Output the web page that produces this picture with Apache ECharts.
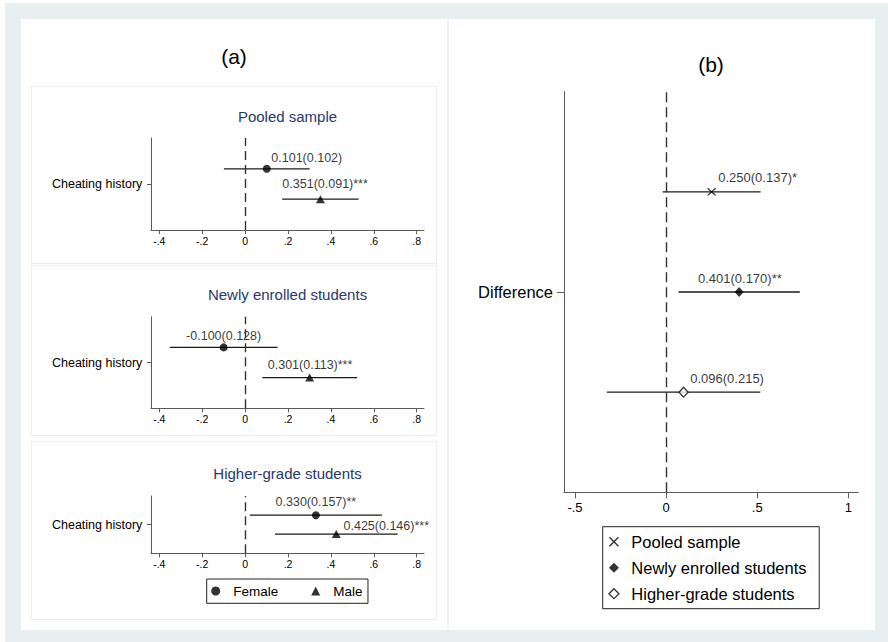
<!DOCTYPE html>
<html><head><meta charset="utf-8">
<script src="https://cdn.jsdelivr.net/npm/echarts@6/dist/echarts.min.js"></script>
<style>html,body{margin:0;padding:0;background:#fff}#c{width:888px;height:642px}</style>
</head><body><div id="c"></div>
<script>
// ---------------- data ----------------
const panelATitles = ['Pooled sample', 'Newly enrolled students', 'Higher-grade students'];
const groupNames = ['Female', 'Male'];
const yLabelA = 'Cheating history';
const femaleEst = [0.101, -0.100, 0.330];
const femaleSE = [0.102, 0.128, 0.157];
const femaleStars = ['', '', '**'];
const femaleLow = [-0.099, -0.351, 0.022];
const femaleHigh = [0.301, 0.151, 0.638];
const maleEst = [0.351, 0.301, 0.425];
const maleSE = [0.091, 0.113, 0.146];
const maleStars = ['***', '***', '***'];
const maleLow = [0.173, 0.080, 0.139];
const maleHigh = [0.529, 0.522, 0.711];

const diffNames = ['Pooled sample', 'Newly enrolled students', 'Higher-grade students'];
const yLabelB = 'Difference';
const diffEst = [0.250, 0.401, 0.096];
const diffSE = [0.137, 0.170, 0.215];
const diffStars = ['*', '**', ''];
const diffLow = [-0.019, 0.068, -0.325];
const diffHigh = [0.519, 0.734, 0.517];

const ticksA = [-0.4, -0.2, 0, 0.2, 0.4, 0.6, 0.8];
const ticksB = [-0.5, 0, 0.5, 1];

// ---------------- layout / style ----------------
const FONT = '"Liberation Sans", Arial, Helvetica, sans-serif';
const lineColor = '#1a1a1a';
const axisColor = '#5a5a5a';
const navy = '#27386b';
const gridsA = [
  {left: 151, top: 138, width: 273, height: 92},
  {left: 151, top: 316.7, width: 273, height: 91.6},
  {left: 151, top: 496, width: 273, height: 57.3}
];
const gridB = {left: 564, top: 91.7, width: 294.3, height: 400.6};
const xRangeA = [-0.4387, 0.834];
const xRangeB = [-0.5604, 1.055];
const rowPos = 0.5;
const offsetsA = [0.165, -0.165];
const offsetsB = [0.25, 0, -0.25];
const labelOffA = [[[40, -11.3], [4.7, -14.7]], [[0, -11.7], [0.4, -12.3]], [[0, -13.6], [50, -8.3]]];
const labelOffB = [[46, -14], [0.7, -14], [43.5, -13.4]];
const subtitleY = [116.7, 294.3, 473.3];
const xMarkPath = 'path://M0,1L1,0L5,4L9,0L10,1L6,5L10,9L9,10L5,6L1,10L0,9L4,5Z';

function fmtTick(v) {
  if (Math.abs(v) < 1e-9) return '0';
  const s = String(+v.toFixed(2));
  return s.replace(/^(-?)0\./, '$1.');
}
function fmtCoef(e, se, st) { return e.toFixed(3) + '(' + se.toFixed(3) + ')' + st; }

function ciRender(params, api) {
  const p1 = api.coord([api.value(0), api.value(2)]);
  const p2 = api.coord([api.value(1), api.value(2)]);
  return {type: 'line', shape: {x1: p1[0], y1: p1[1], x2: p2[0], y2: p2[1]},
    style: {stroke: lineColor, lineWidth: 1.3}};
}

function xAxisCfg(gi, range, ticks, fs, tickLen, margin) {
  return {type: 'value', gridIndex: gi, min: range[0], max: range[1],
    axisLine: {show: true, onZero: false, lineStyle: {color: axisColor, width: 1}},
    axisTick: {show: true, customValues: ticks, length: tickLen, lineStyle: {color: axisColor}},
    axisLabel: {customValues: ticks, formatter: fmtTick, fontSize: fs, fontFamily: FONT, color: '#000', margin: margin},
    splitLine: {show: false}};
}
function yAxisCfg(gi, label, fs, tickLen, margin) {
  return {type: 'value', gridIndex: gi, min: 0, max: 1,
    axisLine: {show: true, onZero: false, lineStyle: {color: axisColor, width: 1}},
    axisTick: {show: true, customValues: [rowPos], length: tickLen, lineStyle: {color: axisColor}},
    axisLabel: {customValues: [rowPos], formatter: function () { return label; }, fontSize: fs, fontFamily: FONT, color: '#000', margin: margin},
    splitLine: {show: false}};
}
function zeroLine(dash) {
  return {silent: true, symbol: ['none', 'none'], label: {show: false},
    lineStyle: {type: dash, color: '#333', width: 1.4}, data: [{xAxis: 0}]};
}

const grid = [], xAxis = [], yAxis = [], series = [];
for (let p = 0; p < 3; p++) {
  grid.push(gridsA[p]);
  xAxis.push(xAxisCfg(p, xRangeA, ticksA, 10.5, 4, 5.5));
  yAxis.push(yAxisCfg(p, yLabelA, 12.5, 4, 8.7));
  const est = [femaleEst[p], maleEst[p]];
  const se = [femaleSE[p], maleSE[p]];
  const st = [femaleStars[p], maleStars[p]];
  const lo = [femaleLow[p], maleLow[p]];
  const hi = [femaleHigh[p], maleHigh[p]];
  series.push({type: 'custom', xAxisIndex: p, yAxisIndex: p, renderItem: ciRender, silent: true, clip: false,
    encode: {x: [0, 1], y: 2},
    data: [0, 1].map(g => [lo[g], hi[g], rowPos + offsetsA[g]])});
  [0, 1].forEach(g => {
    series.push({type: 'scatter', name: groupNames[g], xAxisIndex: p, yAxisIndex: p,
      symbol: g === 0 ? 'circle' : 'triangle', symbolSize: g === 0 ? 8 : [9, 8],
      itemStyle: {color: '#000'}, z: 3,
      label: {show: true, position: 'inside', fontSize: 12.5, fontFamily: FONT, color: '#000'},
      markLine: g === 0 ? zeroLine([9, 5]) : undefined,
      data: [{value: [est[g], rowPos + offsetsA[g]],
        label: {offset: labelOffA[p][g], formatter: fmtCoef(est[g], se[g], st[g])}}]});
  });
}
// panel b
grid.push(gridB);
xAxis.push(xAxisCfg(3, xRangeB, ticksB, 13, 6, 8.5));
yAxis.push(yAxisCfg(3, yLabelB, 16.5, 7, 11));
series.push({type: 'custom', xAxisIndex: 3, yAxisIndex: 3, renderItem: ciRender, silent: true, clip: false,
  encode: {x: [0, 1], y: 2},
  data: diffEst.map((e, i) => [diffLow[i], diffHigh[i], rowPos + offsetsB[i]])});
const symB = [
  {symbol: xMarkPath, symbolSize: [9, 8], itemStyle: {color: '#000'}},
  {symbol: 'diamond', symbolSize: [9, 10], itemStyle: {color: '#000'}},
  {symbol: 'diamond', symbolSize: [9, 10], itemStyle: {color: '#fff', borderColor: '#000', borderWidth: 1.3}}
];
diffEst.forEach((e, i) => {
  series.push(Object.assign({type: 'scatter', name: diffNames[i], xAxisIndex: 3, yAxisIndex: 3, z: 3,
    label: {show: true, position: 'inside', fontSize: 13, fontFamily: FONT, color: '#000'},
    markLine: i === 0 ? zeroLine([10, 5]) : undefined,
    data: [{value: [e, rowPos + offsetsB[i]],
      label: {offset: labelOffB[i], formatter: fmtCoef(e, diffSE[i], diffStars[i])}}]}, symB[i]));
});

const graphic = [
  {type: 'rect', z: -10, silent: true, shape: {x: 5, y: 3, width: 883, height: 639}, style: {fill: '#e8eff1'}},
  {type: 'rect', z: -9, silent: true, shape: {x: 21, y: 19, width: 426, height: 611}, style: {fill: '#fff'}},
  {type: 'rect', z: -9, silent: true, shape: {x: 449, y: 19, width: 426, height: 611}, style: {fill: '#fff'}},
  {type: 'rect', z: -9, silent: true, shape: {x: 447, y: 19, width: 2, height: 611}, style: {fill: '#eef3f4'}},
  {type: 'rect', z: -8, silent: true, shape: {x: 31.5, y: 86.5, width: 405, height: 177}, style: {fill: 'none', stroke: '#e6eeee', lineWidth: 1}},
  {type: 'rect', z: -8, silent: true, shape: {x: 31.5, y: 265.5, width: 405, height: 170}, style: {fill: 'none', stroke: '#e6eeee', lineWidth: 1}},
  {type: 'rect', z: -8, silent: true, shape: {x: 31.5, y: 441.5, width: 405, height: 178}, style: {fill: 'none', stroke: '#e6eeee', lineWidth: 1}},
  {type: 'text', x: 234, y: 56, silent: true, style: {text: '(a)', font: '21px ' + FONT, fill: '#000', align: 'center', verticalAlign: 'middle'}},
  {type: 'text', x: 711, y: 64, silent: true, style: {text: '(b)', font: '21px ' + FONT, fill: '#000', align: 'center', verticalAlign: 'middle'}}
];
panelATitles.forEach((t, p) => {
  graphic.push({type: 'text', x: gridsA[p].left + gridsA[p].width / 2, y: subtitleY[p], silent: true,
    style: {text: t, font: '15px ' + FONT, fill: navy, align: 'center', verticalAlign: 'middle'}});
});

const option = {
  animation: false,
  backgroundColor: '#fff',
  graphic: graphic,
  grid: grid, xAxis: xAxis, yAxis: yAxis, series: series,
  legend: [
    {data: groupNames, left: 206.7, top: 579, orient: 'horizontal', selectedMode: false,
      itemWidth: 9, itemHeight: 9, itemGap: 33, padding: [4, 5.5, 4.3, 4.5],
      borderColor: '#222', borderWidth: 1,
      textStyle: {fontSize: 13.5, fontFamily: FONT, color: '#000', lineHeight: 16, padding: [0, 0, 0, 8]}},
    {data: diffNames.map((n, i) => i === 2 ? {name: n, itemStyle: {borderWidth: 1.3}} : {name: n}),
      left: 602.7, top: 526.7, orient: 'vertical', selectedMode: false,
      itemWidth: 10, itemHeight: 10, itemGap: 8, padding: [6, 12.7, 6, 5.6],
      borderColor: '#222', borderWidth: 1,
      textStyle: {fontSize: 16.5, fontFamily: FONT, color: '#000', lineHeight: 18, padding: [0, 0, 0, 7.4]}}
  ]
};
const chart = echarts.init(document.getElementById('c'), null, {renderer: 'svg', width: 888, height: 642});
chart.setOption(option);
</script>
</body></html>
